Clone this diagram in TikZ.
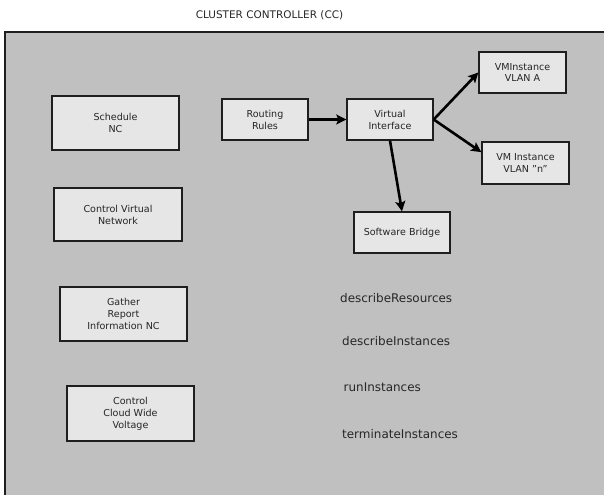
\documentclass[tikz,border=0pt]{standalone}
\usepackage{fontspec}
\setmainfont{DejaVu Sans}
\usetikzlibrary{arrows.meta,calc}
\definecolor{panel}{HTML}{C0C0C0}
\definecolor{boxfill}{HTML}{E6E6E6}
\definecolor{ink}{HTML}{1E1E1E}
\definecolor{txt}{HTML}{262626}
\tikzset{
  box/.style={draw=ink, line width=1.4bp, fill=boxfill, text=txt,
    font=\fontsize{9.6}{12}\selectfont, align=center, inner sep=0pt},
  method/.style={text=txt, font=\fontsize{12}{14}\selectfont, anchor=west, inner sep=0pt},
  flow/.style={draw=black, line width=2.6bp, -{Stealth[length=10bp,width=10bp,inset=2bp]}}
}
\begin{document}
\begin{tikzpicture}[x=1bp,y=-1bp]
\useasboundingbox (0,0) rectangle (604,495);
% controller area
\fill[panel] (5,32) rectangle (606,497);
\draw[draw=ink, line width=1.4bp] (5,497) -- (5,32) -- (606,32);
\node[text=txt, font=\fontsize{10.5}{12}\selectfont] (title) at (269.5,15) {CLUSTER CONTROLLER (CC)};

% left column of tasks
\node[box, minimum width=127bp, minimum height=54bp] (sched) at (115.5,123) {Schedule\\NC};
\node[box, minimum width=128bp, minimum height=53bp] (ctrlnet) at (118,214.5) {Control Virtual\\Network};
\node[box, minimum width=127bp, minimum height=54bp] (gather) at (123.5,314) {Gather\\Report\\Information NC};
\node[box, minimum width=127bp, minimum height=55bp] (volt) at (130.5,413.5) {Control\\Cloud Wide\\Voltage};

% virtual networking
\node[box, minimum width=86bp, minimum height=41bp] (route) at (265,119.5) {Routing\\Rules};
\node[box, minimum width=86bp, minimum height=41bp] (vif) at (390,119.5) {Virtual\\Interface};
\node[box, minimum width=87bp, minimum height=41bp] (vma) at (522.5,72.5) {VMInstance\\VLAN A};
\node[box, minimum width=87bp, minimum height=42bp] (vmn) at (525.5,163) {VM Instance\\VLAN "n"};
\node[box, minimum width=96bp, minimum height=41bp] (bridge) at (402,232.5) {Software Bridge};

\draw[flow] (route.east) -- (vif.west);
\draw[flow] (vif.east) -- (vma.west);
\draw[flow] (vif.east) -- ($(vmn.north west)!0.25!(vmn.south west)$);
\draw[flow] (vif.south) -- (bridge.north);

% operations
\node[method] (descres) at (340,298) {describeResources};
\node[method] (descinst) at (342,341) {describeInstances};
\node[method] (run) at (343.5,387) {runInstances};
\node[method] (term) at (342,434) {terminateInstances};
\end{tikzpicture}
\end{document}
